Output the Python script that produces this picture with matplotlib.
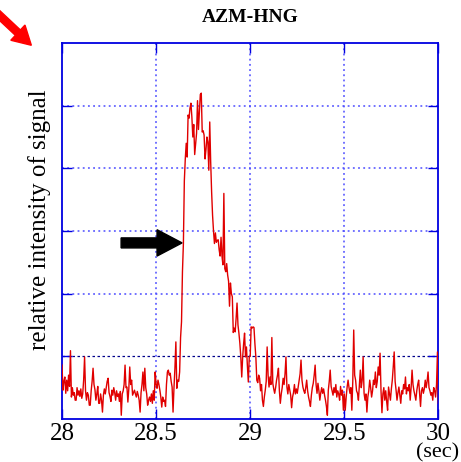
import numpy as np
import matplotlib.pyplot as plt
from matplotlib.patches import FancyArrow

plt.rcParams['font.family'] = ['Liberation Serif', 'DejaVu Serif']

# signal before the arrival (28.000 - 28.610 s, step 5 ms)
pre_event = [
    0.86, 0.46, 0.60, 0.67, 0.41, 0.62, 0.45, 0.70, 0.52, 1.09,
    0.35, 0.50, 0.38, 0.42, 0.30, 0.30, 0.50, 0.38, 0.45, 0.36,
    0.48, 0.33, 0.40, 0.62, 0.99, 0.45, 0.30, 0.42, 0.38, 0.22,
    0.22, 0.45, 0.60, 0.81, 0.55, 0.47, 0.30, 0.40, 0.52, 0.25,
    0.25, 0.40, 0.30, 0.11, 0.38, 0.48, 0.40, 0.50, 0.60, 0.65,
    0.42, 0.36, 0.28, 0.46, 0.38, 0.50, 0.42, 0.30, 0.45, 0.36,
    0.40, 0.28, 0.44, 0.06, 0.40, 0.45, 0.55, 0.86, 0.50, 0.51,
    0.27, 0.48, 0.83, 0.55, 0.62, 0.38, 0.42, 0.46, 0.40, 0.35,
    0.44, 0.38, 0.30, 0.11, 0.42, 0.55, 0.75, 0.45, 0.81, 0.50,
    0.40, 0.22, 0.30, 0.35, 0.28, 0.40, 0.25, 0.45, 0.30, 0.75,
    0.55, 0.49, 0.62, 0.55, 0.46, 0.35, 0.19, 0.35, 0.28, 0.30,
    0.20, 0.55, 0.75, 0.78, 0.70, 0.73, 0.60, 0.51, 0.11, 0.50,
    0.81, 1.23, 0.49,
]

# the pulse (28.615 - 29.030 s)
event = [
    0.62, 0.60, 0.75, 1.30, 1.55, 2.35, 2.80, 3.80, 4.15, 4.40,
    4.18, 4.85, 4.80, 4.96, 5.04, 4.82, 4.50, 4.70, 4.22, 4.40,
    4.56, 5.08, 4.62, 4.90, 5.18, 5.20, 4.58, 4.60, 4.53, 4.15,
    4.30, 4.50, 4.42, 3.97, 4.74, 4.10, 3.62, 3.25, 3.00, 2.80,
    2.97, 2.82, 2.85, 2.86, 2.70, 2.60, 2.90, 2.60, 2.46, 3.60,
    2.40, 2.35, 2.48, 2.30, 2.20, 1.80, 2.17, 2.00, 1.95, 1.38,
    1.45, 1.39, 1.60, 1.85, 1.50, 1.37, 1.21, 0.99, 0.67, 0.99,
    1.20, 1.37, 0.99, 1.15, 0.85, 0.59, 0.99, 1.00, 1.47, 1.45,
    1.47, 1.46, 1.20, 0.99,
]

# coda / background after the pulse (29.035 - 30.000 s)
post_event = [
    0.62, 0.58, 0.70, 0.65, 0.45, 0.55, 0.30, 0.20, 0.35, 0.46,
    0.60, 1.15, 0.70, 0.51, 0.67, 0.55, 1.30, 0.57, 0.48, 0.41,
    0.50, 0.62, 0.70, 0.81, 0.45, 0.25, 0.40, 0.50, 0.65, 0.55,
    0.72, 0.99, 0.51, 0.40, 0.55, 0.46, 0.38, 0.18, 0.35, 0.42,
    0.55, 0.40, 0.48, 0.41, 0.51, 0.60, 0.72, 0.94, 0.62, 0.51,
    0.45, 0.41, 0.50, 0.62, 0.45, 0.35, 0.28, 0.20, 0.38, 0.50,
    0.57, 0.70, 0.86, 0.55, 0.41, 0.57, 0.45, 0.30, 0.42, 0.50,
    0.41, 0.48, 0.38, 0.30, 0.20, 0.06, 0.46, 0.60, 0.78, 0.52,
    0.45, 0.38, 0.50, 0.42, 0.55, 0.35, 0.45, 0.40, 0.30, 0.52,
    0.38, 0.46, 0.14, 0.40, 0.14, 0.35, 0.51, 0.62, 0.50, 0.41,
    0.50, 0.14, 0.60, 1.42, 0.70, 0.62, 0.45, 0.41, 0.30, 0.55,
    0.78, 0.50, 0.62, 0.99, 0.41, 0.30, 0.40, 0.11, 0.35, 0.45,
    0.62, 0.50, 0.35, 0.45, 0.62, 0.55, 0.75, 0.50, 0.60, 0.83,
    0.70, 1.05, 0.45, 0.10, 0.40, 0.50, 0.30, 0.45, 0.28, 0.14,
    0.51, 0.40, 0.30, 0.48, 0.62, 0.83, 1.07, 0.60, 0.46, 0.30,
    0.42, 0.51, 0.38, 0.25, 0.45, 0.40, 0.55, 0.48, 0.67, 0.40,
    0.50, 0.45, 0.55, 0.30, 0.50, 0.78, 0.55, 0.45, 0.38, 0.30,
    0.45, 0.55, 0.62, 0.40, 0.20, 0.45, 0.50, 0.41, 0.48, 0.62,
    0.50, 0.60, 0.75, 0.50, 0.45, 0.38, 0.42, 0.30, 0.50, 0.45,
    0.35, 0.55, 1.07, 0.25,
]

signal = np.array(pre_event + event + post_event)
t = np.linspace(28, 30, len(signal))

x_ticks = [28, 28.5, 29, 29.5, 30]
x_ticklabels = ['28', '28.5', '29', '29.5', '30']
onset_time = 28.638
onset_level = 2.81

fig = plt.figure(figsize=(4.61, 4.62), dpi=100)
ax = fig.add_axes([0.1345, 0.0931, 0.8165, 0.8138])

ax.set_xlim(28, 30)
ax.set_ylim(0, 6)

# grid
for xv in [28.5, 29, 29.5]:
    ax.axvline(xv, color='#4b4bff', linestyle=(0, (1.2, 2.2)), linewidth=1.1, zorder=1)
for yv in [2, 3, 4, 5]:
    ax.axhline(yv, color='#4b4bff', linestyle=(0, (1.2, 2.2)), linewidth=1.1, zorder=1)
ax.axhline(1, color='#00008b', linestyle=(0, (2, 2)), linewidth=0.9, zorder=1)

ax.plot(t, signal, color='#e00000', linewidth=1.0, zorder=3)

# arrow marking the onset
ax.add_patch(FancyArrow(28.314, onset_level, onset_time - 28.314, 0,
                        width=0.16, head_width=0.42, head_length=0.133,
                        length_includes_head=True, color='black', zorder=4))

for s in ax.spines.values():
    s.set_color('#0000e0')
    s.set_linewidth(1.3)

ax.set_xticks(x_ticks)
ax.set_xticklabels(x_ticklabels)
ax.set_yticks([1, 2, 3, 4, 5])
ax.set_yticklabels([])
ax.tick_params(direction='in', colors='#0000e0', length=7, width=1,
               top=True, right=True, labelsize=18, pad=3)
for lbl in ax.get_xticklabels():
    lbl.set_color('black')

ax.set_ylabel('relative intensity of signal', fontsize=18)
ax.yaxis.set_label_coords(-0.03, 0.53)
ax.set_title('AZM-HNG', fontsize=14, fontweight='bold', pad=15)
fig.text(0.997, 0.0, '(sec)', fontsize=16, ha='right', va='bottom')

# red pointer in the corner
fig.patches.append(FancyArrow(-0.01, 0.975, 0.078, -0.073, width=0.016,
                              head_width=0.045, head_length=0.04,
                              length_includes_head=True, color='red',
                              transform=fig.transFigure, figure=fig))

fig.savefig('out.png', dpi=100)
